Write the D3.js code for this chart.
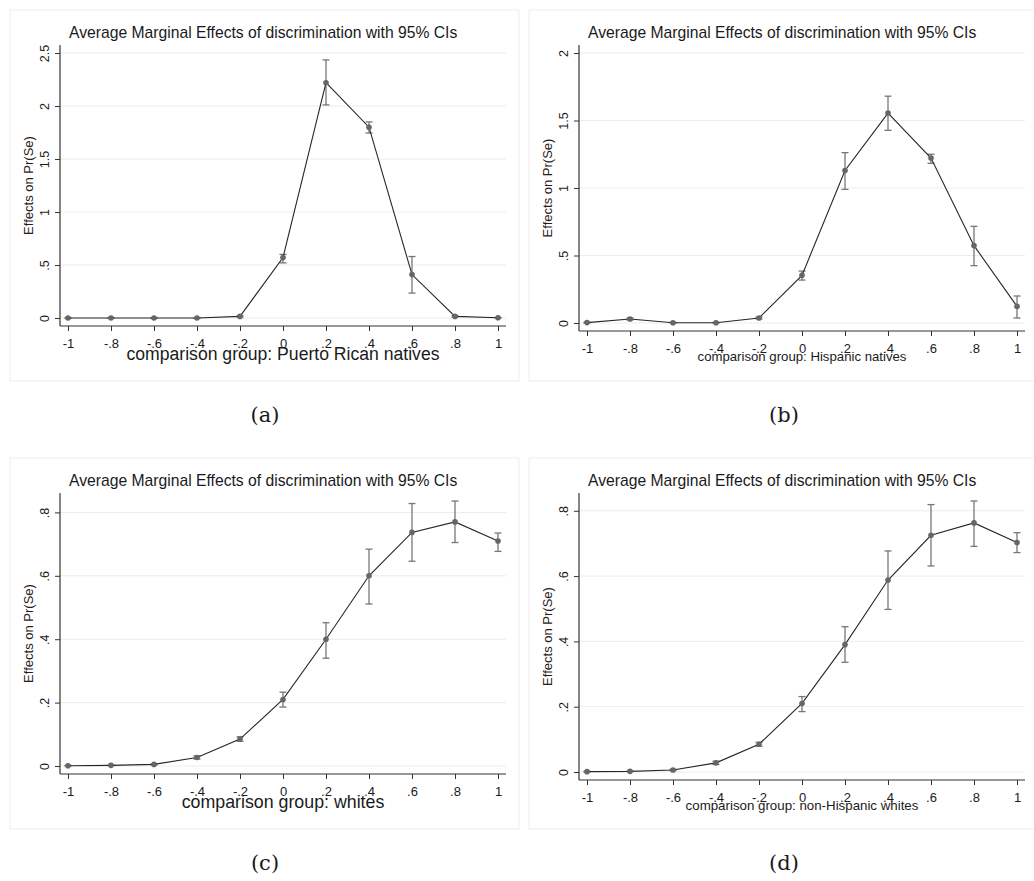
<!DOCTYPE html>
<html>
<head>
<meta charset="utf-8">
<script src="https://cdn.jsdelivr.net/npm/d3@7"></script>
<style>
  html, body { margin: 0; padding: 0; background: #fff; }
  svg { display: block; }
  text { font-family: "Liberation Sans", Arial, sans-serif; fill: #1a1a1a; }
  .caption { font-family: "DejaVu Serif", "Liberation Serif", serif; }
</style>
</head>
<body>
<svg id="chart" width="1034" height="881"></svg>
<script>
// Values of the discrimination index at which the margins were evaluated
const xValues = [-1, -0.8, -0.6, -0.4, -0.2, 0, 0.2, 0.4, 0.6, 0.8, 1];
const xTickLabels = ["-1", "-.8", "-.6", "-.4", "-.2", "0", ".2", ".4", ".6", ".8", "1"];

const chartTitle = "Average Marginal Effects of discrimination with 95% CIs";
const yAxisTitle = "Effects on Pr(Se)";
const captions = ["(a)", "(b)", "(c)", "(d)"];
const groupTitles = [
  "comparison group: Puerto Rican natives",
  "comparison group: Hispanic natives",
  "comparison group: whites",
  "comparison group: non-Hispanic whites"
];

// Y-axis ticks for each panel
const yTicksWide = [0, 0.5, 1, 1.5, 2, 2.5];
const yTickLabelsWide = ["0", ".5", "1", "1.5", "2", "2.5"];
const yTicksMid = [0, 0.5, 1, 1.5, 2];
const yTickLabelsMid = ["0", ".5", "1", "1.5", "2"];
const yTicksNarrow = [0, 0.2, 0.4, 0.6, 0.8];
const yTickLabelsNarrow = ["0", ".2", ".4", ".6", ".8"];

// (a) Puerto Rican natives
const effectPuertoRican = [0, 0, 0, 0, 0.015, 0.57, 2.22, 1.80, 0.41, 0.015, 0.002];
const lowPuertoRican    = [0, 0, 0, 0, 0.008, 0.52, 2.01, 1.745, 0.235, 0.008, 0];
const highPuertoRican   = [0.001, 0.001, 0.001, 0.001, 0.022, 0.60, 2.435, 1.85, 0.58, 0.022, 0.004];

// (b) Hispanic natives
const effectHispanic = [0.003, 0.03, 0.002, 0.002, 0.037, 0.353, 1.13, 1.555, 1.222, 0.573, 0.123];
const lowHispanic    = [0, 0.022, 0, 0, 0.03, 0.318, 0.99, 1.427, 1.183, 0.425, 0.037];
const highHispanic   = [0.006, 0.038, 0.004, 0.004, 0.044, 0.385, 1.262, 1.68, 1.25, 0.716, 0.2];

// (c) whites
const effectWhites = [0.001, 0.002, 0.005, 0.027, 0.085, 0.21, 0.40, 0.60, 0.737, 0.77, 0.71];
const lowWhites    = [0, 0.001, 0.003, 0.022, 0.078, 0.186, 0.34, 0.511, 0.646, 0.705, 0.677];
const highWhites   = [0.002, 0.003, 0.007, 0.032, 0.092, 0.233, 0.452, 0.684, 0.828, 0.836, 0.735];

// (d) non-Hispanic whites
const effectNonHispWhites = [0.001, 0.002, 0.006, 0.028, 0.085, 0.21, 0.39, 0.588, 0.725, 0.763, 0.703];
const lowNonHispWhites    = [0, 0.001, 0.004, 0.023, 0.079, 0.185, 0.336, 0.498, 0.631, 0.691, 0.672];
const highNonHispWhites   = [0.002, 0.003, 0.008, 0.033, 0.091, 0.231, 0.445, 0.677, 0.819, 0.83, 0.733];

const panels = [
  { ox: 10,  oy: 10,  bottom: 316, titleSize: 17.6, est: effectPuertoRican,   lo: lowPuertoRican,   hi: highPuertoRican,   ticks: yTicksWide,   tickLabels: yTickLabelsWide },
  { ox: 529, oy: 10,  bottom: 321, titleSize: 13.2, est: effectHispanic,      lo: lowHispanic,      hi: highHispanic,      ticks: yTicksMid,    tickLabels: yTickLabelsMid },
  { ox: 10,  oy: 458, bottom: 316, titleSize: 17.8, est: effectWhites,        lo: lowWhites,        hi: highWhites,        ticks: yTicksNarrow, tickLabels: yTickLabelsNarrow },
  { ox: 529, oy: 458, bottom: 322, titleSize: 13.3, est: effectNonHispWhites, lo: lowNonHispWhites, hi: highNonHispWhites, ticks: yTicksNarrow, tickLabels: yTickLabelsNarrow }
];

// Shared plot-region geometry (relative to each panel)
const panelW = 509, panelH = 371;
const axisX = 50, axisTop = 35, axisRight = 496, pad = 8;

const svg = d3.select("#chart");

panels.forEach((p, i) => {
  const g = svg.append("g").attr("transform", `translate(${p.ox},${p.oy})`);

  // panel frame
  g.append("rect")
    .attr("x", 0).attr("y", 0).attr("width", panelW).attr("height", panelH)
    .attr("fill", "#fff").attr("stroke", "#efebeb").attr("stroke-width", 1);

  const x = d3.scaleLinear().domain([-1, 1]).range([axisX + pad, axisRight - pad]);
  const yLo = Math.min(d3.min(p.lo), d3.min(p.ticks));
  const yHi = Math.max(d3.max(p.hi), d3.max(p.ticks));
  const y = d3.scaleLinear().domain([yLo, yHi]).range([p.bottom - pad, axisTop + pad]);

  // horizontal gridlines
  g.append("g").selectAll("line").data(p.ticks).join("line")
    .attr("x1", axisX).attr("x2", axisRight)
    .attr("y1", d => y(d)).attr("y2", d => y(d))
    .attr("stroke", "#ececec").attr("stroke-width", 1);

  // y axis
  const yAxis = d3.axisLeft(y).tickValues(p.ticks)
    .tickFormat((d, k) => p.tickLabels[k]).tickSize(5).tickSizeOuter(0);
  const ya = g.append("g").attr("transform", `translate(${axisX},0)`).call(yAxis);
  ya.select(".domain").attr("d", `M0,${axisTop}V${p.bottom}`).attr("stroke", "#333").attr("stroke-width", 1.2);
  ya.selectAll(".tick line").attr("stroke", "#333");
  ya.selectAll(".tick text")
    .attr("x", 0).attr("dy", 0)
    .attr("transform", "translate(-11,0) rotate(-90)")
    .attr("text-anchor", "middle")
    .style("font-size", "12.5px").style("fill", "#1a1a1a");

  // x axis
  const xAxis = d3.axisBottom(x).tickValues(xValues)
    .tickFormat((d, k) => xTickLabels[k]).tickSize(5).tickSizeOuter(0);
  const xa = g.append("g").attr("transform", `translate(0,${p.bottom})`).call(xAxis);
  xa.select(".domain").attr("d", `M${axisX},0H${axisRight}`).attr("stroke", "#333").attr("stroke-width", 1.2);
  xa.selectAll(".tick line").attr("stroke", "#333");
  xa.selectAll(".tick text")
    .attr("y", 21.5).attr("dy", 0)
    .style("font-size", "13px").style("fill", "#1a1a1a");
  g.selectAll(".domain").attr("fill", "none");
  g.selectAll(".tick text").attr("font-family", null);

  // confidence intervals
  const ci = g.append("g").attr("stroke", "#777").attr("stroke-width", 1.3);
  xValues.forEach((xv, k) => {
    const cx = x(xv);
    ci.append("line").attr("x1", cx).attr("x2", cx).attr("y1", y(p.lo[k])).attr("y2", y(p.hi[k]));
    ci.append("line").attr("x1", cx - 3.5).attr("x2", cx + 3.5).attr("y1", y(p.lo[k])).attr("y2", y(p.lo[k]));
    ci.append("line").attr("x1", cx - 3.5).attr("x2", cx + 3.5).attr("y1", y(p.hi[k])).attr("y2", y(p.hi[k]));
  });

  // connected estimates
  const line = d3.line().x((d, k) => x(xValues[k])).y(d => y(d));
  g.append("path").datum(p.est).attr("d", line)
    .attr("fill", "none").attr("stroke", "#262626").attr("stroke-width", 1.1);
  g.append("g").selectAll("circle").data(p.est).join("circle")
    .attr("cx", (d, k) => x(xValues[k])).attr("cy", d => y(d))
    .attr("r", 2.8).attr("fill", "#666");

  // titles
  g.append("text").attr("x", 59).attr("y", 28)
    .style("font-size", "15.7px").text(chartTitle);
  g.append("text")
    .attr("transform", `translate(23,${(axisTop + p.bottom) / 2}) rotate(-90)`)
    .attr("text-anchor", "middle").style("font-size", "13px").style("fill", "#2a1a1a")
    .text(yAxisTitle);
  g.append("text")
    .attr("x", (axisX + axisRight) / 2)
    .attr("y", p.titleSize > 15 ? p.bottom + 34 : p.bottom + 29.5)
    .attr("text-anchor", "middle").style("font-size", p.titleSize + "px")
    .text(groupTitles[i]);

  // subfigure caption
  svg.append("text").attr("class", "caption")
    .attr("x", p.ox + 255).attr("y", p.oy + 412)
    .attr("text-anchor", "middle").style("font-size", "21px")
    .text(captions[i]);
});
</script>
</body>
</html>
